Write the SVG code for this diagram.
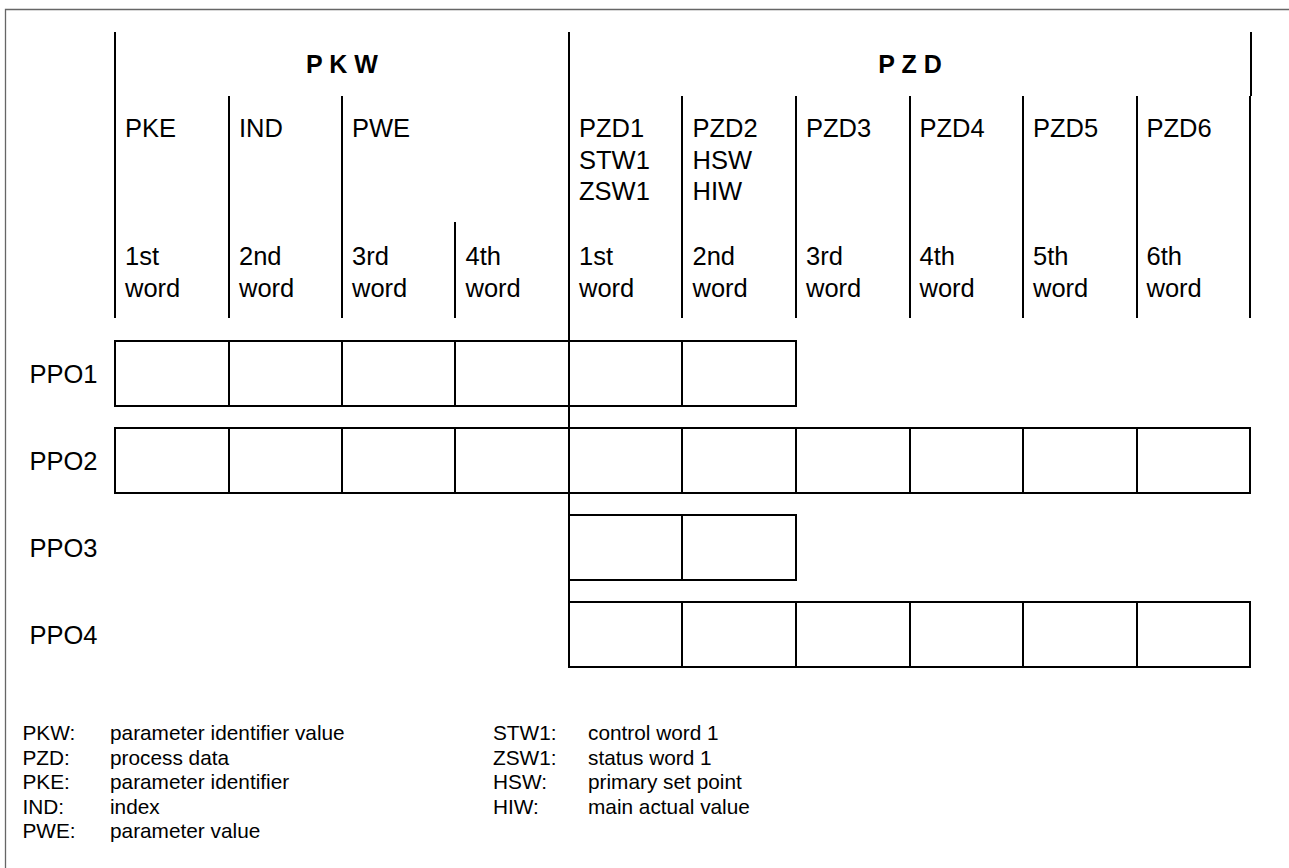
<svg xmlns="http://www.w3.org/2000/svg" width="1289" height="868" viewBox="0 0 1289 868">
<style>
.t{font-family:"Liberation Sans",Arial,sans-serif;font-size:25.5px;fill:#000}
.b{font-family:"Liberation Sans",Arial,sans-serif;font-size:25px;font-weight:bold;fill:#000}
.l{font-family:"Liberation Sans",Arial,sans-serif;font-size:20.8px;fill:#000}
.ln{stroke:#000;stroke-width:2;fill:none}
.box{stroke:#000;stroke-width:2;fill:#fff}
.frame{stroke:#666;stroke-width:1.3;fill:none}
</style>
<rect width="1289" height="868" fill="#fff"/>
<g id="frame"><path class="frame" d="M5.5,868 V9.5 H1289"/></g>

<g id="grid-lines">
<path class="ln" d="M115,32 V318 M569,32 V667 M1251,32 V96 M229,96 V318 M342,96 V318 M455,222 V318 M682,96 V318 M796,96 V318 M910,96 V318 M1023,96 V318 M1137,96 V318 M1250,96 V318"/>
</g>

<g id="hdr-pkw"><text class="b" x="342" y="73" text-anchor="middle">P K W</text></g>
<g id="hdr-pzd"><text class="b" x="910" y="73" text-anchor="middle">P Z D</text></g>

<g id="col-pke"><text class="t" x="125" y="137">PKE</text><text class="t" x="125" y="265">1st</text><text class="t" x="125" y="297">word</text></g>
<g id="col-ind"><text class="t" x="239" y="137">IND</text><text class="t" x="239" y="265">2nd</text><text class="t" x="239" y="297">word</text></g>
<g id="col-pwe"><text class="t" x="352" y="137">PWE</text><text class="t" x="352" y="265">3rd</text><text class="t" x="352" y="297">word</text></g>
<g id="col-pwe2"><text class="t" x="465.5" y="265">4th</text><text class="t" x="465.5" y="297">word</text></g>
<g id="col-pzd1"><text class="t" x="579" y="137">PZD1</text><text class="t" x="579" y="168.5">STW1</text><text class="t" x="579" y="200">ZSW1</text><text class="t" x="579" y="265">1st</text><text class="t" x="579" y="297">word</text></g>
<g id="col-pzd2"><text class="t" x="692.5" y="137">PZD2</text><text class="t" x="692.5" y="168.5">HSW</text><text class="t" x="692.5" y="200">HIW</text><text class="t" x="692.5" y="265">2nd</text><text class="t" x="692.5" y="297">word</text></g>
<g id="col-pzd3"><text class="t" x="806" y="137">PZD3</text><text class="t" x="806" y="265">3rd</text><text class="t" x="806" y="297">word</text></g>
<g id="col-pzd4"><text class="t" x="919.5" y="137">PZD4</text><text class="t" x="919.5" y="265">4th</text><text class="t" x="919.5" y="297">word</text></g>
<g id="col-pzd5"><text class="t" x="1033" y="137">PZD5</text><text class="t" x="1033" y="265">5th</text><text class="t" x="1033" y="297">word</text></g>
<g id="col-pzd6"><text class="t" x="1146.5" y="137">PZD6</text><text class="t" x="1146.5" y="265">6th</text><text class="t" x="1146.5" y="297">word</text></g>

<g id="ppo1">
<text class="t" x="29.5" y="383">PPO1</text>
<rect class="box" x="115" y="341" width="681" height="65"/>
<path class="ln" d="M229,341 V406 M342,341 V406 M455,341 V406 M569,341 V406 M682,341 V406"/>
</g>
<g id="ppo2">
<text class="t" x="29.5" y="470">PPO2</text>
<rect class="box" x="115" y="428" width="1135" height="65"/>
<path class="ln" d="M229,428 V493 M342,428 V493 M455,428 V493 M569,428 V493 M682,428 V493 M796,428 V493 M910,428 V493 M1023,428 V493 M1137,428 V493"/>
</g>
<g id="ppo3">
<text class="t" x="29.5" y="557">PPO3</text>
<rect class="box" x="569" y="515" width="227" height="65"/>
<path class="ln" d="M682,515 V580"/>
</g>
<g id="ppo4">
<text class="t" x="29.5" y="644">PPO4</text>
<rect class="box" x="569" y="602" width="681" height="65"/>
<path class="ln" d="M682,602 V667 M796,602 V667 M910,602 V667 M1023,602 V667 M1137,602 V667"/>
</g>
<path class="ln" d="M569,406 V428 M569,493 V515 M569,580 V602"/>

<g id="legend">
<text class="l" x="22.5" y="740">PKW:</text><text class="l" x="110" y="740">parameter identifier value</text>
<text class="l" x="22.5" y="764.5">PZD:</text><text class="l" x="110" y="764.5">process data</text>
<text class="l" x="22.5" y="789">PKE:</text><text class="l" x="110" y="789">parameter identifier</text>
<text class="l" x="22.5" y="813.5">IND:</text><text class="l" x="110" y="813.5">index</text>
<text class="l" x="22.5" y="838">PWE:</text><text class="l" x="110" y="838">parameter value</text>
<text class="l" x="493" y="740">STW1:</text><text class="l" x="588" y="740">control word 1</text>
<text class="l" x="493" y="764.5">ZSW1:</text><text class="l" x="588" y="764.5">status word 1</text>
<text class="l" x="493" y="789">HSW:</text><text class="l" x="588" y="789">primary set point</text>
<text class="l" x="493" y="813.5">HIW:</text><text class="l" x="588" y="813.5">main actual value</text>
</g>
</svg>
